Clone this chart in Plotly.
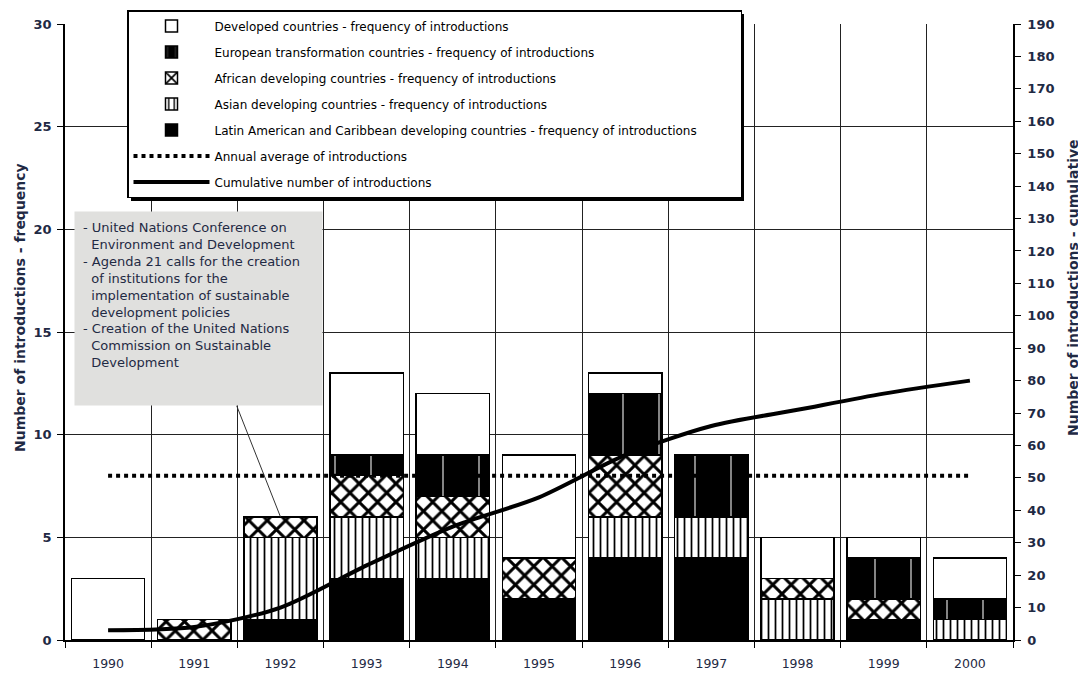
import plotly.graph_objects as go

years = ["1990", "1991", "1992", "1993", "1994", "1995", "1996", "1997", "1998", "1999", "2000"]
latin = [0, 0, 1, 3, 3, 2, 4, 4, 0, 1, 0]
asian = [0, 0, 4, 3, 2, 0, 2, 2, 2, 0, 1]
african = [0, 1, 1, 2, 2, 2, 3, 0, 1, 1, 0]
european = [0, 0, 0, 1, 2, 0, 3, 3, 0, 2, 1]
developed = [3, 0, 0, 4, 3, 5, 1, 0, 2, 1, 2]
cumulative = [3, 4, 10, 23, 35, 44, 57, 66, 71, 76, 80]
annual_average = 8.0

names = {
    "developed": "Developed countries - frequency of introductions",
    "european": "European transformation countries - frequency of introductions",
    "african": "African developing countries - frequency of introductions",
    "asian": "Asian developing countries - frequency of introductions",
    "latin": "Latin American and Caribbean developing countries - frequency of introductions",
    "avg": "Annual average of introductions",
    "cum": "Cumulative number of introductions",
}

note_lines = [
    "- United Nations Conference on",
    "  Environment and Development",
    "- Agenda 21 calls for the creation",
    "  of institutions for the",
    "  implementation of sustainable",
    "  development policies",
    "- Creation of the United Nations",
    "  Commission on Sustainable",
    "  Development",
]
note_year = "1992"
left_title = "Number of introductions - frequency"
right_title = "Number of introductions - cumulative"

TXT = "#1f2a44"
FONT = "DejaVu Sans"

# plot area in window pixels (page body has an 8px margin)
PL, PR, PT, PB = 65, 1013, 24, 640
def px(x):
    return (x - PL) / (PR - PL)
def py(y):
    return (PB - y) / (PB - PT)

fig = go.Figure()

def bar(vals, key, rank, marker, label=None):
    fig.add_trace(go.Bar(
        x=years, y=vals, name=label or names[key], legendrank=rank, legendgroup=key,
        marker=dict(line=dict(color="black", width=1.5), **marker),
        yaxis="y",
    ))

bar(latin, "latin", 5, dict(color="black"), names["latin"] + "&nbsp;" * 10)
bar(asian, "asian", 4, dict(color="white", pattern=dict(shape="|", fgcolor="black", bgcolor="white", size=7, solidity=0.25, fillmode="replace")))
bar(african, "african", 3, dict(color="white", pattern=dict(shape="x", fgcolor="black", bgcolor="white", size=13, solidity=0.4, fillmode="replace")))
bar(european, "european", 2, dict(color="black", pattern=dict(shape="|", fgcolor="#b8b8b8", bgcolor="black", size=36, solidity=0.04, fillmode="replace")))
bar(developed, "developed", 1, dict(color="white"))

fig.add_trace(go.Scatter(
    x=years, y=[annual_average] * len(years), name=names["avg"], legendrank=6, legendgroup="avg",
    mode="lines", line=dict(color="black", width=4, dash="dot"), yaxis="y",
))
fig.add_trace(go.Scatter(
    x=years, y=cumulative, name=names["cum"], legendrank=7, legendgroup="cum",
    mode="lines", line=dict(color="black", width=4, shape="spline", smoothing=0.8), yaxis="y2",
))

i = years.index(note_year)
note_text = "<br>".join(l.replace("  ", "&nbsp;&nbsp;") for l in note_lines)
fig.add_annotation(
    x=i, y=latin[i] + asian[i] + african[i] + european[i] + developed[i],
    xref="x", yref="y", ax=-82, ay=-208,
    text=note_text, align="left", valign="top", showarrow=True, arrowhead=0, arrowwidth=1, arrowcolor="#333",
    bgcolor="#e0e0de", width=231, height=177, borderpad=8,
    font=dict(family=FONT, size=13, color=TXT),
    xanchor="center", yanchor="middle",
)

# axis titles
fig.add_annotation(x=px(20), y=py(308), xref="paper", yref="paper", text="<b>%s</b>" % left_title,
                   textangle=-90, showarrow=False, xanchor="center", yanchor="middle",
                   font=dict(family=FONT, size=14, color=TXT))
fig.add_annotation(x=px(1073), y=py(288), xref="paper", yref="paper", text="<b>%s</b>" % right_title,
                   textangle=-90, showarrow=False, xanchor="center", yanchor="middle",
                   font=dict(family=FONT, size=14, color=TXT))

# legend shadow
fig.add_shape(type="rect", xref="paper", yref="paper",
              x0=px(131), x1=px(744), y0=py(201), y1=py(14),
              fillcolor="black", line=dict(width=0), layer="above")

fig.update_layout(
    width=1086, height=673,
    margin=dict(l=PL - 8, r=1086 + 8 - PR, t=PT - 8, b=673 + 8 - PB, autoexpand=False),
    paper_bgcolor="white", plot_bgcolor="white",
    barmode="stack", bargap=0.15,
    font=dict(family=FONT, color=TXT),
    showlegend=True,
    legend=dict(
        x=px(127), y=py(10), xanchor="left", yanchor="top",
        bgcolor="white", bordercolor="black", borderwidth=1.5,
        font=dict(family=FONT, size=12, color="black"),
        tracegroupgap=7, itemwidth=76, traceorder="grouped",
    ),
    xaxis=dict(
        type="category", range=[-0.5, 10.5], tickson="boundaries", ticks="outside", ticklen=6, tickcolor="black",
        showgrid=True, gridcolor="#222", gridwidth=1.2, showline=True, linecolor="black", linewidth=1.5,
        tickfont=dict(family=FONT, size=12.5, color=TXT), ticklabelstandoff=11, tickangle=0,
    ),
    yaxis=dict(
        range=[0, 30], dtick=5, ticks="outside", ticklen=6, tickcolor="black",
        showgrid=True, gridcolor="#222", gridwidth=1.2, showline=True, linecolor="black", linewidth=1.5,
        zeroline=False, ticklabelstandoff=3,
        tickfont=dict(family=FONT, size=13, color=TXT, weight="bold"),
    ),
    yaxis2=dict(
        range=[0, 190], dtick=10, overlaying="y", side="right", ticks="outside", ticklen=6, tickcolor="black",
        showgrid=False, showline=True, linecolor="black", linewidth=1.5, zeroline=False, ticklabelstandoff=4,
        tickfont=dict(family=FONT, size=13, color=TXT, weight="bold"),
    ),
)

fig.write_html("out.html")
